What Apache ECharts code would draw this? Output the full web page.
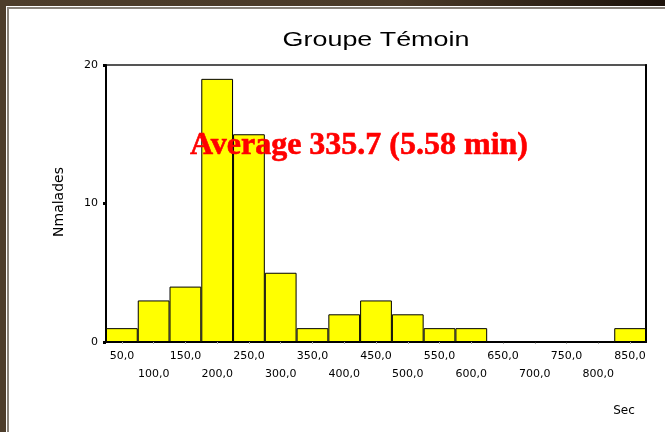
<!DOCTYPE html>
<html>
<head>
<meta charset="utf-8">
<script src="https://cdn.jsdelivr.net/npm/echarts@6/dist/echarts.min.js"></script>
<style>
  html, body { margin: 0; padding: 0; }
  body { width: 665px; height: 432px; overflow: hidden; position: relative;
         background: linear-gradient(90deg, #4d3d2b 0%, #4a3a28 60%, #1c120a 100%); }
  #panel { position: absolute; left: 6px; top: 6px; width: 700px; height: 460px; background: #fff; }
  #inner { position: absolute; left: 1px; top: 1px; width: 700px; height: 460px;
           border-left: 2px solid #8a847c; border-top: 2px solid #8a847c; background: #fff; }
  #chart11 { position: absolute; left: 0; top: 0; width: 665px; height: 432px; }
</style>
</head>
<body>
<div id="panel"><div id="inner"></div></div>
<div id="chart11"></div>
<script>
// histogram bins (seconds) and counts
var categories = ['50,0', '100,0', '150,0', '200,0', '250,0', '300,0', '350,0', '400,0', '450,0',
                  '500,0', '550,0', '600,0', '650,0', '700,0', '750,0', '800,0', '850,0'];
var counts = [1, 3, 4, 19, 15, 5, 1, 2, 3, 2, 1, 1, 0, 0, 0, 0, 1];
var yTicks = [0, 10, 20];

var mychart11 = echarts.init(document.getElementById('chart11'));
mychart11.setOption(getOption11());

function getOption11() {
    var option = {
        backgroundColor: 'transparent',
        animation: false,
        grid: {
            left: 106, right: 19, top: 65, bottom: 90,
            show: true, borderColor: '#555', borderWidth: 2
        },
        xAxis: {
            type: 'category',
            data: categories,
            boundaryGap: true,
            axisLine: { lineStyle: { color: '#000', width: 2 } },
            axisTick: { show: true, alignWithLabel: true, length: 2, lineStyle: { color: '#aaa', width: 1 } },
            axisLabel: {
                interval: 0,
                margin: 5,
                fontFamily: 'DejaVu Sans',
                fontSize: 11,
                lineHeight: 18,
                color: '#000',
                formatter: function (v, i) {
                    return i % 2 ? '\n' + v : v;
                }
            }
        },
        yAxis: [{
            type: 'value',
            min: yTicks[0],
            max: yTicks[yTicks.length - 1],
            interval: 10,
            splitLine: { show: false },
            axisLine: { show: true, lineStyle: { color: '#000', width: 2 } },
            axisTick: { show: true, length: 3, lineStyle: { color: '#000', width: 3 } },
            axisLabel: { margin: 8, fontFamily: 'DejaVu Sans', fontSize: 11, color: '#000' }
        }, {
            // right frame line
            type: 'value',
            position: 'right',
            min: 0, max: 20,
            splitLine: { show: false },
            axisLine: { show: true, lineStyle: { color: '#000', width: 2 } },
            axisTick: { show: false },
            axisLabel: { show: false }
        }],
        graphic: [
            {
                type: 'text', x: 376, y: 40, scaleX: 1.28,
                style: { text: 'Groupe Témoin', x: 0, y: 0, align: 'center', verticalAlign: 'middle',
                         font: '21px "Liberation Sans"', fill: '#000' }
            },
            {
                type: 'text', x: 59, y: 202, rotation: Math.PI / 2,
                style: { text: 'Nmalades', x: 0, y: 0, align: 'center', verticalAlign: 'middle',
                         font: '14px "DejaVu Sans"', fill: '#000' }
            },
            {
                type: 'text', x: 624, y: 411,
                style: { text: 'Sec', x: 0, y: 0, align: 'center', verticalAlign: 'middle',
                         font: '12px "DejaVu Sans"', fill: '#000' }
            },
            {
                type: 'text', x: 190, y: 146, z: 100,
                style: { text: 'Average 335.7 (5.58 min)', x: 0, y: 0, align: 'left', verticalAlign: 'middle',
                         font: 'bold 32px "Liberation Serif"', fill: '#ff0000',
                         stroke: '#ff0000', lineWidth: 0.6 }
            }
        ],
        series: [{
            type: 'bar',
            data: counts,
            barCategoryGap: 0,
            itemStyle: { color: '#ffff00', borderColor: '#000', borderWidth: 1 }
        }]
    };
    return option;
}
</script>
</body>
</html>
